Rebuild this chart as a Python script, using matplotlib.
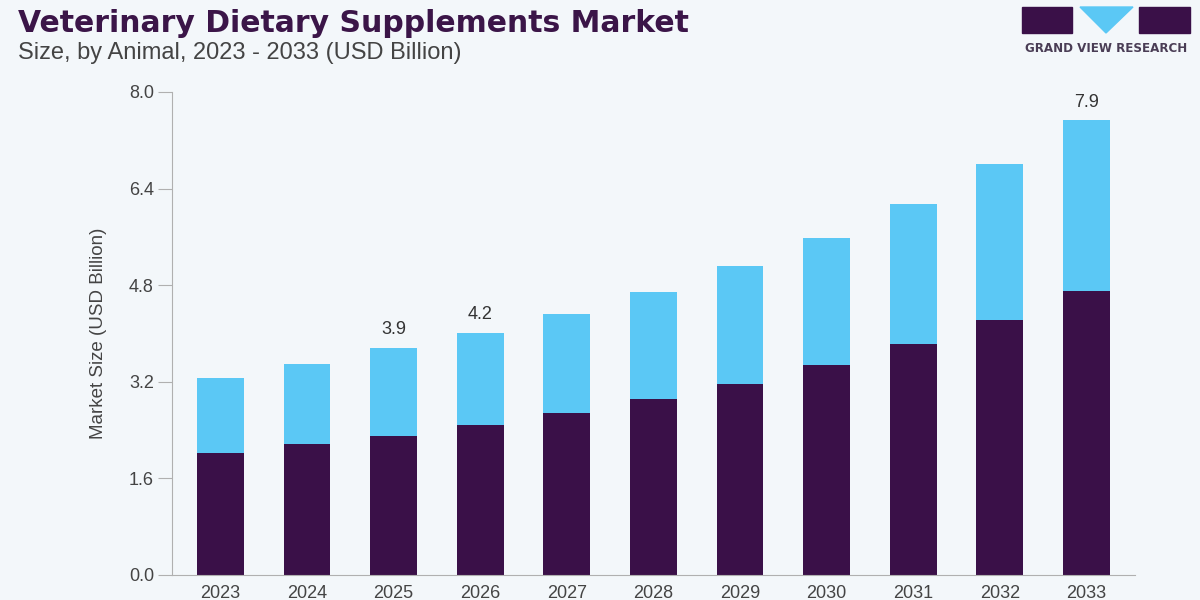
import numpy as np
import matplotlib.pyplot as plt
from matplotlib.patches import Rectangle, Polygon

years = ['2023', '2024', '2025', '2026', '2027', '2028', '2029', '2030', '2031', '2032', '2033']
# two stacked segments (animal groups)
dark_seg = [2.02, 2.17, 2.31, 2.48, 2.68, 2.91, 3.17, 3.48, 3.82, 4.23, 4.70]
total = [3.27, 3.50, 3.76, 4.01, 4.32, 4.69, 5.12, 5.58, 6.15, 6.80, 7.53]
light_seg = [t - d for t, d in zip(total, dark_seg)]
labels = {'2025': '3.9', '2026': '4.2', '2033': '7.9'}
yticks = [0.0, 1.6, 3.2, 4.8, 6.4, 8.0]

dark = '#3a1048'
light = '#5bc8f5'
bg = '#f3f7fa'
gray = '#444444'

plt.rcParams['font.family'] = ['Liberation Sans', 'DejaVu Sans']

fig = plt.figure(figsize=(12, 6), dpi=100, facecolor=bg)
ax = fig.add_axes([0.1433, 0.0417, 0.8025, 0.805])
ax.set_facecolor(bg)

x = np.arange(len(years))
ax.bar(x, dark_seg, width=0.54, color=dark)
ax.bar(x, light_seg, bottom=dark_seg, width=0.54, color=light)

for i, yr in enumerate(years):
    if yr in labels:
        ax.annotate(labels[yr], (x[i], total[i]), xytext=(0, 7), textcoords='offset points',
                    ha='center', va='bottom', fontsize=13, color='#333333')

ax.set_xlim(-0.56, len(years) - 1 + 0.56)
ax.set_ylim(0, 8)
ax.set_xticks(x)
ax.set_xticklabels(years)
ax.set_yticks(yticks)
ax.set_yticklabels([f'{v:.1f}' for v in yticks])
ax.tick_params(axis='y', length=10, width=0.8, color='#b0b0b0', labelsize=13, labelcolor=gray, pad=3)
ax.tick_params(axis='x', length=0, labelsize=13, labelcolor=gray, pad=7)
for s in ['top', 'right']:
    ax.spines[s].set_visible(False)
for s in ['left', 'bottom']:
    ax.spines[s].set_color('#b0b0b0')
    ax.spines[s].set_linewidth(0.8)
ax.set_ylabel('Market Size (USD Billion)', fontsize=13.5, color=gray, labelpad=16)

fig.text(0.015, 0.985, 'Veterinary Dietary Supplements Market', fontsize=21.5, fontweight='heavy',
         color='#3b1548', va='top', ha='left', family=['DejaVu Sans'])
fig.text(0.015, 0.912, 'Size, by Animal, 2023 - 2033 (USD Billion)', fontsize=17,
         color=gray, va='center', ha='left')

# logo
def px(xp, yp):
    return (xp / 1200, 1 - yp / 600)

lx0, ly0 = px(1022, 33)
fig.patches.append(Rectangle((lx0, ly0), 50 / 1200, 26 / 600, transform=fig.transFigure, color=dark))
lx0, ly0 = px(1139, 33)
fig.patches.append(Rectangle((lx0, ly0), 51 / 1200, 26 / 600, transform=fig.transFigure, color=dark))
fig.patches.append(Polygon([px(1080, 7), px(1133, 7), px(1106, 33)], transform=fig.transFigure, color=light))
fig.text(1106 / 1200, 1 - 48 / 600, 'GRAND VIEW RESEARCH', fontsize=8.6, fontweight='bold',
         color='#4a3d55', ha='center', va='center', family=['DejaVu Sans'])

fig.savefig('out.png', dpi=100, facecolor=bg)
